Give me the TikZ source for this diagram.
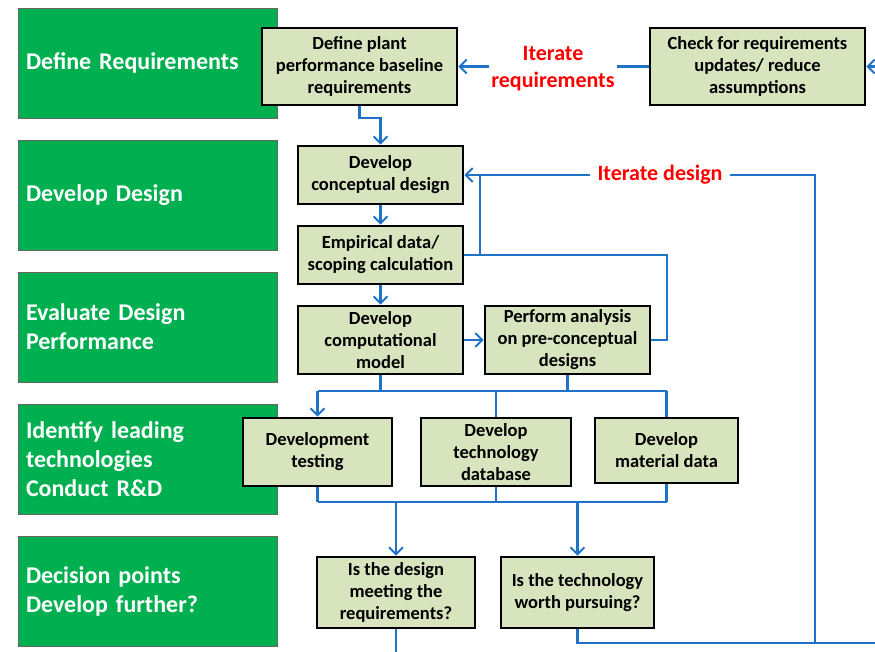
\documentclass[tikz,border=0pt]{standalone}
\usepackage{fontspec}
\setmainfont{Carlito}
\usetikzlibrary{
  arrows.meta,
  positioning,
  calc
}
\definecolor{stagegreen}{RGB}{0,176,80}
\definecolor{stepfill}{RGB}{215,228,189}
\definecolor{flowblue}{RGB}{30,115,200}
\definecolor{iterred}{RGB}{255,0,0}

\begin{document}
\begin{tikzpicture}[
  x=1pt,y=-1pt,
  stagebox/.style={
    draw=black!60,
    line width=0.6pt,
    fill=stagegreen,
    minimum width=259pt,
    minimum height=110pt,
    text width=243pt,
    inner xsep=8pt,
    align=left,
    text=white,
    font=\fontsize{24}{29}\selectfont\bfseries
    },
  stepbox/.style={
    draw=black,
    line width=2.6pt,
    fill=stepfill,
    inner sep=0pt,
    align=center,
    font=\fontsize{18.5}{22}\selectfont\bfseries
    },
  flow/.style={
    draw=flowblue,
    line width=2.2pt
    },
  flowarr/.style={
    flow,
    -{Straight Barb[length=7pt,width=14pt,line width=2pt]}
    },
  itertext/.style={
    text=iterred,
    align=center,
    font=\fontsize{22}{27}\selectfont\bfseries
    }
]
\useasboundingbox (0,0) rectangle (875,652);

% stages on the left
\node[stagebox] (sreq)  at (147.5,63)  {Define Requirements};
\node[stagebox] (sdes)  at (147.5,195) {Develop Design};
\node[stagebox] (seval) at (147.5,327) {Evaluate Design\\Performance};
\node[stagebox] (stech) at (147.5,459) {Identify leading\\technologies\\Conduct R\&D};
\node[stagebox] (sdec)  at (147.5,591) {Decision points\\Develop further?};

% steps
\node[stepbox,minimum width=195pt,minimum height=77pt] (base) at (359.5,66.5)
  {Define plant\\performance baseline\\requirements};
\node[stepbox,minimum width=215pt,minimum height=77pt] (check) at (757.5,66.5)
  {Check for requirements\\updates/ reduce\\assumptions};
\node[stepbox,minimum width=165pt,minimum height=58pt] (concept) at (380.5,175)
  {Develop\\conceptual design};
\node[stepbox,minimum width=165pt,minimum height=58pt] (emp) at (380.5,255)
  {Empirical data/\\scoping calculation};
\node[stepbox,minimum width=165pt,minimum height=68pt] (comp) at (380.5,340)
  {Develop\\computational\\model};
\node[stepbox,minimum width=165pt,minimum height=68pt] (perf) at (567.5,340)
  {Perform analysis\\on pre-conceptual\\designs};
\node[stepbox,minimum width=149pt,minimum height=68pt] (devtest) at (317.5,452)
  {Development\\testing};
\node[stepbox,minimum width=150pt,minimum height=68pt] (techdb) at (496,452)
  {Develop\\technology\\database};
\node[stepbox,minimum width=143pt,minimum height=65pt] (matdata) at (666.5,450.5)
  {Develop\\material data};
\node[stepbox,minimum width=158pt,minimum height=71pt] (meet) at (396,592.5)
  {Is the design\\meeting the\\requirements?};
\node[stepbox,minimum width=153pt,minimum height=71pt] (worth) at (577.5,592.5)
  {Is the technology\\worth pursuing?};

% iteration labels
\node[itertext,inner xsep=2pt] (itreq) at (553,69) {Iterate\\requirements};
\node[itertext,inner xsep=7pt] (itdes) at (660,175) {Iterate design};

% free ends and corners
\coordinate (outtr) at (876,66.5);
\coordinate (outbr) at (876,643);
\coordinate (outbl) at (396,653);
\coordinate (split) at (480,255);
\coordinate (rloop) at (667,255);
\coordinate (dloop) at (815,175);
\coordinate (busA) at (0,391);
\coordinate (busB) at (0,502);

% requirements loop
\draw[flowarr] (outtr) -- (check.east);
\draw[flow] (check.west) -- (check.west -| itreq.east);
\draw[flowarr] (base.east -| itreq.west) -- (base.east);
\draw[flowarr] (base.south) -- ++(0,12) -| (concept.north);

% design loop
\draw[flowarr] (concept.south) -- (emp.north);
\draw[flowarr] (emp.south) -- (comp.north);
\draw[flowarr] (comp.east) -- (perf.west);
\draw[flow] (emp.east) -- (rloop) |- (perf.east);
\draw[flowarr] (split) |- (concept.east);
\draw[flow] (split |- concept.east) -- (itdes.west);
\draw[flow] (itdes.east) -- (dloop) |- (outbr);

% research and development
\draw[flow] (comp.south) -- (comp.south |- busA);
\draw[flow] (perf.south) -- (perf.south |- busA);
\draw[flow] (devtest.north |- busA) -- (matdata.north |- busA);
\draw[flowarr] (devtest.north |- busA) -- (devtest.north);
\draw[flow] (techdb.north |- busA) -- (techdb.north);
\draw[flow] (matdata.north |- busA) -- (matdata.north);

% decisions
\draw[flow] (devtest.south) -- (devtest.south |- busB);
\draw[flow] (techdb.south) -- (techdb.south |- busB);
\draw[flow] (matdata.south) -- (matdata.south |- busB);
\draw[flow] (devtest.south |- busB) -- (matdata.south |- busB);
\draw[flowarr] (meet.north |- busB) -- (meet.north);
\draw[flowarr] (worth.north |- busB) -- (worth.north);
\draw[flow] (meet.south) -- (outbl);
\draw[flow] (worth.south) |- (outbr);
\end{tikzpicture}
\end{document}
